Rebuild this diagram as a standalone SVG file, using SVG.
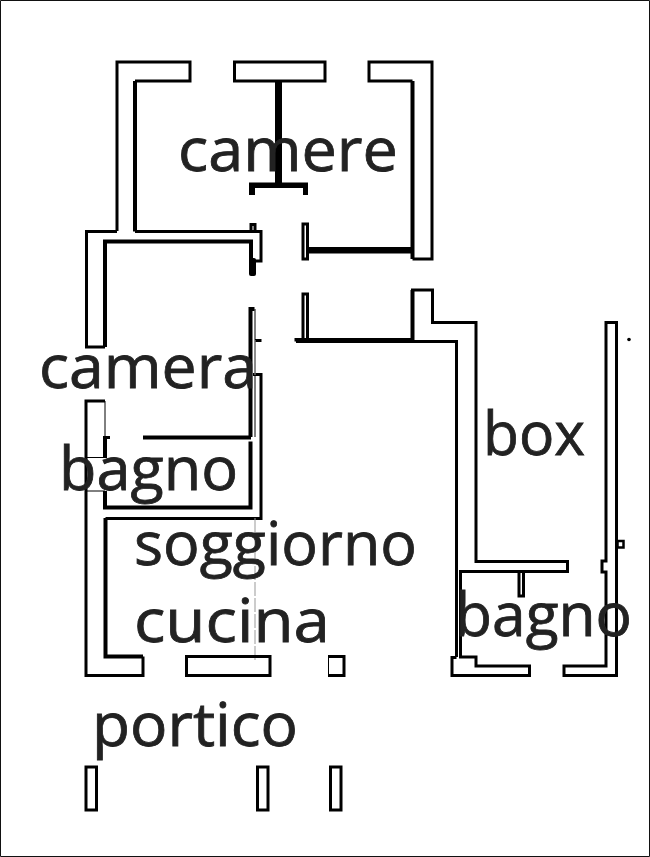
<svg xmlns="http://www.w3.org/2000/svg" width="650" height="857" viewBox="0 0 650 857">
<style>
.w{fill:none;stroke:#000;stroke-width:3;stroke-linejoin:miter}
.t{fill:none;stroke:#000;stroke-width:4;stroke-linejoin:miter}
.h{fill:none;stroke:#000;stroke-width:1}
.k{fill:#000;stroke:none}
.g{fill:none;stroke:#999;stroke-width:1}
text{font-family:"Open Sans","Liberation Sans",sans-serif;font-size:61px;fill:#222;stroke:#222;stroke-width:.8}
</style>
<rect width="650" height="857" fill="#fff"/>
<path d="M.5 .5H649.5V856.5H.5Z" fill="none" stroke="#111" stroke-width="1"/>
<g id="walls">
<path class="w" d="M117 231V62H190V81H135"/>
<path class="t" d="M135 81V231.500"/>
<path class="w" d="M117 231.500H86.500V347H105"/>
<path class="t" d="M105 347V241.500H251V262"/>
<path class="w" d="M135 231.500H261V261H252"/>
<rect class="k" x="249" y="258" width="7" height="18" rx="2"/>
<path class="w" d="M251 232V224.500H255V232"/>
<rect class="w" x="234.500" y="62" width="90.500" height="19"/>
<rect class="k" x="275" y="81" width="7" height="104"/>
<path class="k" d="M249 182.500H308V195H303V188H255V195H249Z"/>
<path class="w" d="M412.500 81H369V62H432V259H412.500"/>
<path class="t" d="M412.500 81V259"/>
<rect class="k" x="307" y="247" width="106" height="6.500"/>
<rect class="w" x="303" y="224" width="4.500" height="35"/>
<path class="w" d="M303 340V294H307.500V339"/>
<path class="w" d="M296 341.500V339.500H412.500V290H432.500V322.500H476V561.500H567.500V571.500H460.500V657H476V666H529.500V675.500H452V657.500H456.500"/>
<path class="t" d="M412.500 340V290"/>
<path class="w" d="M296 341.500H456.500V657"/>
<path class="w" d="M519 572V596H523.500V572"/>
<path class="w" d="M564 675.500V666H606V572H602V561H606V322.500H616.500V675.500Z"/>
<rect x="617.500" y="541" width="6" height="6.500" fill="#fff" stroke="#000" stroke-width="2.500"/>
<circle class="k" cx="629" cy="339.500" r="1.800"/>
<path class="t" d="M250.500 437V309H254.500"/>
<path class="h" d="M255 309V437"/>
<path class="w" d="M255 340.500H261.500"/>
<path class="w" d="M253 374.500H261V518.500H105.500"/>
<path class="t" d="M105.500 518V656.500H143"/>
<path class="w" d="M143 656.500V675.500H86V401H105"/>
<path class="h" d="M105 401V436"/>
<path class="t" d="M105 436V458"/>
<path class="w" d="M103 437.500H110"/>
<rect class="k" x="143" y="435.500" width="108" height="4"/>
<path class="t" d="M250.500 441.500V507.500H105V491"/>
<path class="h" d="M86 457.500H105M86 491H105"/>
<path class="g" d="M255 340V375"/>
<path class="g" d="M255 518V661" stroke-dasharray="14 2"/>
<rect class="w" x="186.500" y="656.500" width="83.500" height="19"/>
<path class="w" d="M328 656.500H344V675.500H328"/>
<path class="h" d="M328.500 656V676"/>
<rect class="w" x="86" y="767" width="10.500" height="43"/>
<rect class="w" x="257.500" y="767" width="10.500" height="43"/>
<rect class="w" x="330.500" y="767" width="10.500" height="43"/>
</g>
<g id="labels">
<text x="178" y="171" textLength="220" lengthAdjust="spacingAndGlyphs">camere</text>
<text x="39" y="388" textLength="218" lengthAdjust="spacingAndGlyphs">camera</text>
<text x="59" y="490" textLength="179" lengthAdjust="spacingAndGlyphs">bagno</text>
<text x="134" y="565" textLength="283" lengthAdjust="spacingAndGlyphs">soggiorno</text>
<text x="134" y="642" textLength="196" lengthAdjust="spacingAndGlyphs">cucina</text>
<text x="92" y="746" textLength="206" lengthAdjust="spacingAndGlyphs">portico</text>
<text x="483" y="455" textLength="102" lengthAdjust="spacingAndGlyphs">box</text>
<text x="455" y="636" textLength="177" lengthAdjust="spacingAndGlyphs">bagno</text>
</g>
</svg>
